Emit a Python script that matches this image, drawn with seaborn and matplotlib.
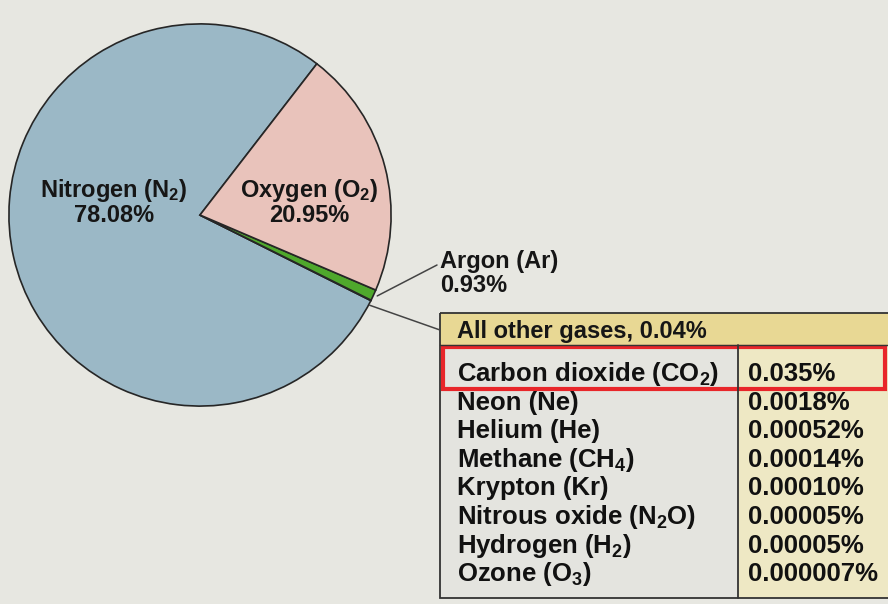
import numpy as np
import matplotlib
matplotlib.use("Agg")
import matplotlib.pyplot as plt
import seaborn as sns
from matplotlib.patches import Rectangle

sns.set_theme(style="white")
plt.rcParams['font.family'] = ['Liberation Sans', 'DejaVu Sans']
plt.rcParams['mathtext.default'] = 'regular'

# main composition of the atmosphere (pie order: counter-clockwise)
gases = ["Nitrogen (N$_2$)", "All other gases", "Argon (Ar)", "Oxygen (O$_2$)"]
percent = [78.08, 0.04, 0.93, 20.95]
pie_labels = ["78.08%", "0.04%", "0.93%", "20.95%"]
colors = ["#9bb8c6", "#111111", "#4fa82c", "#e9c3bb"]

# trace gases listed in the table
trace_names = ["Carbon dioxide (CO$_2$)", "Neon (Ne)", "Helium (He)", "Methane (CH$_4$)",
               "Krypton (Kr)", "Nitrous oxide (N$_2$O)", "Hydrogen (H$_2$)", "Ozone (O$_3$)"]
trace_values = ["0.035%", "0.0018%", "0.00052%", "0.00014%",
                "0.00010%", "0.00005%", "0.00005%", "0.000007%"]

W, H = 888, 604
bg = "#e7e7e1"
ink = "#161616"
fig = plt.figure(figsize=(W / 100, H / 100), dpi=100, facecolor=bg)

# pie axes: centre (200, 215) px, radius 193 px
cx, cy, r = 200, 215, 193
ax = fig.add_axes([(cx - r) / W, 1 - (cy + r) / H, 2 * r / W, 2 * r / H])
start = 52.3
wedges, _ = ax.pie(percent, colors=colors, startangle=start, counterclock=True,
                   wedgeprops=dict(edgecolor="#262626", linewidth=1.2))
ax.set_xlim(-1.01, 1.01)
ax.set_ylim(-1.01, 1.01)

ax.text(-0.45, 0.07, gases[0] + "\n" + pie_labels[0], ha="center", va="center",
        fontsize=17, fontweight="bold", color=ink, linespacing=1.0)
ax.text(0.57, 0.07, gases[3] + "\n" + pie_labels[3], ha="center", va="center",
        fontsize=17, fontweight="bold", color=ink, linespacing=1.0)

# overlay axes in pixel coordinates for labels, leader lines and table
ov = fig.add_axes([0, 0, 1, 1], facecolor="none")
ov.set_xlim(0, W)
ov.set_ylim(H, 0)
ov.axis("off")

def edge_point(w):
    a = np.deg2rad((w.theta1 + w.theta2) / 2)
    return cx + r * np.cos(a), cy - r * np.sin(a)

ax_, ay_ = edge_point(wedges[2])
ov.plot([ax_ + 2, 437], [ay_, 265], color="#444444", lw=1.1)
ov.text(440, 268, gases[2], fontsize=17, fontweight="bold", color=ink, va="baseline")
ov.text(440, 292, pie_labels[2], fontsize=17, fontweight="bold", color=ink, va="baseline")

ox_, oy_ = edge_point(wedges[1])
ov.plot([ox_ - 3, 440], [oy_ + 4, 330], color="#444444", lw=1.1)

# table
tx0, tx1, colx = 440, 892, 738
top, head_bot, bottom = 313, 345, 598
ov.add_patch(Rectangle((tx0, top), tx1 - tx0, head_bot - top, facecolor="#e8d894",
                       edgecolor="none"))
ov.add_patch(Rectangle((tx0, head_bot), colx - tx0, bottom - head_bot,
                       facecolor="#e4e4df", edgecolor="none"))
ov.add_patch(Rectangle((colx, head_bot), tx1 - colx, bottom - head_bot,
                       facecolor="#eee8c4", edgecolor="none"))
ov.add_patch(Rectangle((tx0, top), tx1 - tx0, bottom - top, facecolor="none",
                       edgecolor="#333333", lw=1.3))
ov.plot([tx0, tx1], [head_bot, head_bot], color="#333333", lw=1.0)
ov.plot([colx, colx], [head_bot, bottom], color="#333333", lw=1.3)

ov.text(457, 338, gases[1] + ", " + pie_labels[1], fontsize=17, fontweight="bold",
        color=ink, va="baseline")
pitch = 28.6
for i, (n, v) in enumerate(zip(trace_names, trace_values)):
    yb = 381 + i * pitch
    ov.text(457, yb, n, fontsize=18.5, fontweight="bold", color="#111111", va="baseline")
    ov.text(748, yb, v, fontsize=18.5, fontweight="bold", color="#111111", va="baseline")

# red highlight box around carbon dioxide row
ov.add_patch(Rectangle((443, 347), 442, 42, facecolor="none", edgecolor="#e8262a", lw=3))

fig.savefig("out.png", dpi=100, facecolor=bg)
